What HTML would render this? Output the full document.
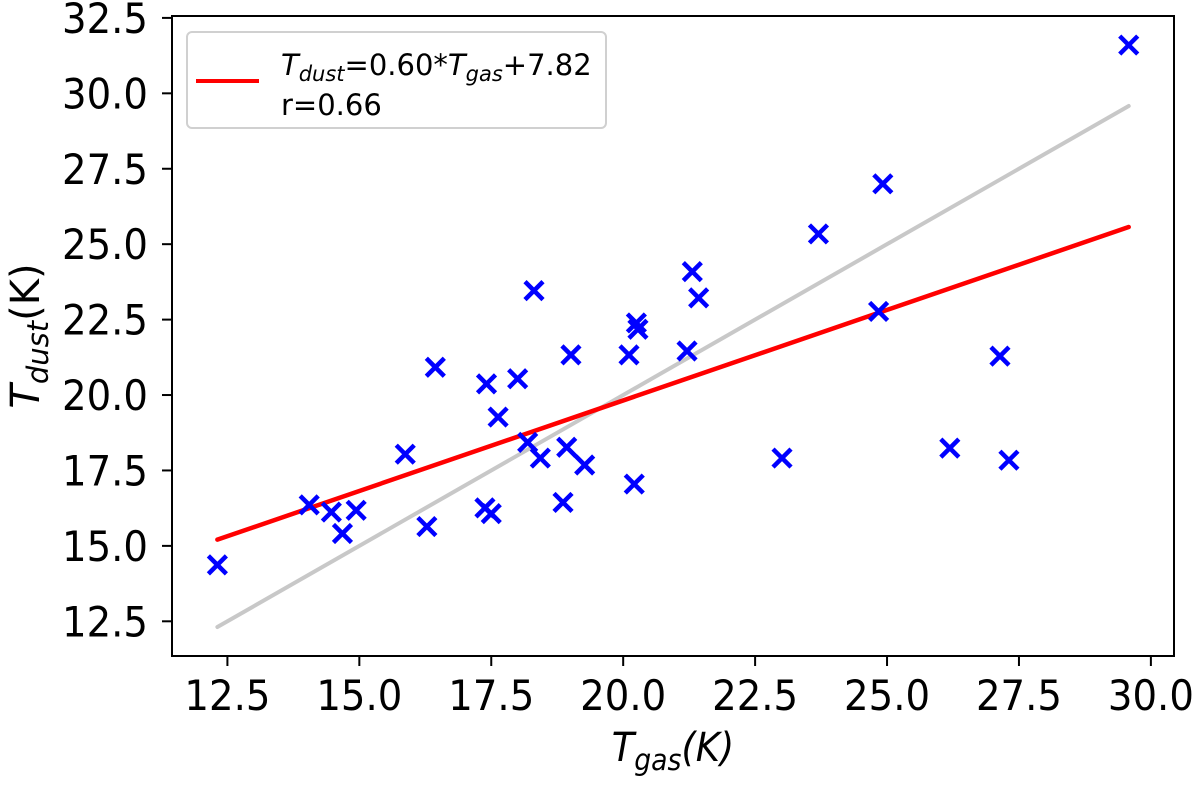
<!DOCTYPE html>
<html><head><meta charset="utf-8"><style>
body{margin:0;background:#fff}
svg text{font-family:"DejaVu Sans","Liberation Sans",sans-serif}
</style></head><body>
<svg id="chart" width="1200" height="780">
<rect x="0" y="0" width="1200" height="780" fill="#fff"/>
<g id="marks"></g>
<rect x="172" y="16" width="1002" height="640" fill="none" stroke="#000" stroke-width="2"/>
<g id="axes"></g>
<g>
<rect x="187" y="32" width="419" height="96" rx="5" fill="#fff" fill-opacity="0.85" stroke="#d0d0d0" stroke-width="2"/>
<line x1="196" y1="81" x2="259" y2="81" stroke="#f00" stroke-width="4"/>
<text x="281" y="75" font-size="29"><tspan font-style="italic">T</tspan><tspan font-style="italic" font-size="21" dy="6">dust</tspan><tspan dy="-6">=0.60*</tspan><tspan font-style="italic">T</tspan><tspan font-style="italic" font-size="21" dy="6">gas</tspan><tspan dy="-6">+7.82</tspan></text>
<text x="281" y="115" font-size="29">r=0.66</text>
</g>
<text transform="translate(673,761) scale(0.92,1)" font-size="40" text-anchor="middle" font-style="italic">T<tspan font-size="29" dy="9">gas</tspan><tspan dy="-9">(K)</tspan></text>
<text transform="translate(39,336) rotate(-90)" font-size="40" text-anchor="middle"><tspan font-style="italic">T</tspan><tspan font-style="italic" font-size="29" dy="9">dust</tspan><tspan dy="-9">(K)</tspan></text>
</svg>
<script>
const xTicks=[12.5,15.0,17.5,20.0,22.5,25.0,27.5,30.0];
const yTicks=[12.5,15.0,17.5,20.0,22.5,25.0,27.5,30.0,32.5];
const tgas=[12.31,14.05,14.47,14.68,14.94,15.87,16.28,16.44,17.38,17.50,17.41,17.63,18.00,18.19,18.31,18.43,18.86,18.93,19.01,19.27,20.11,20.21,20.25,20.28,21.21,21.31,21.43,23.01,23.70,24.84,24.92,26.19,27.14,27.31,29.58];
const tdust=[14.37,16.36,16.12,15.41,16.18,18.04,15.64,20.92,16.26,16.07,20.37,19.27,20.54,18.43,23.46,17.91,16.44,18.27,21.33,17.68,21.33,17.05,22.39,22.18,21.46,24.09,23.22,17.91,25.34,22.77,27.0,18.24,21.29,17.84,31.60];
const fitSlope=0.60, fitIntercept=7.82;
const fitRange=[12.31,29.58];
const NS='http://www.w3.org/2000/svg';
const X=v=>172+(v-11.45)*52.77;
const Y=v=>656-(v-11.35)*30.17;
function mk(tag,attrs,parent){const e=document.createElementNS(NS,tag);for(const k in attrs)e.setAttribute(k,attrs[k]);parent.appendChild(e);return e;}
const axes=document.getElementById('axes'), marks=document.getElementById('marks');
xTicks.forEach(t=>{
  const l=mk('line',{x1:X(t),x2:X(t),y1:656,y2:666,stroke:'#000','stroke-width':2},axes);
  
  
  const tx=mk('text',{transform:`translate(${X(t)},710) scale(0.92,1)`,'font-size':42,'text-anchor':'middle'},axes);
  tx.textContent=t.toFixed(1);
  
  
});
yTicks.forEach(t=>{
  const l=mk('line',{x1:162,x2:172,y1:Y(t),y2:Y(t),stroke:'#000','stroke-width':2},axes);
  
  
  const tx=mk('text',{transform:`translate(148,${Y(t)+15}) scale(0.92,1)`,'font-size':42,'text-anchor':'end'},axes);
  tx.textContent=t.toFixed(1);
  
  
});
const one=mk('line',{x1:X(fitRange[0]),y1:Y(fitRange[0]),x2:X(fitRange[1]),y2:Y(fitRange[1]),stroke:'#c8c8c8','stroke-width':4,'stroke-linecap':'round'},marks);


const fit=mk('line',{x1:X(fitRange[0]),y1:Y(fitSlope*fitRange[0]+fitIntercept),x2:X(fitRange[1]),y2:Y(fitSlope*fitRange[1]+fitIntercept),stroke:'#f00','stroke-width':4.5,'stroke-linecap':'round'},marks);


tgas.forEach((g,i)=>{
  const cx=X(g), cy=Y(tdust[i]), s=9;
  const p=mk('path',{d:`M${cx-s},${cy-s}L${cx+s},${cy+s}M${cx-s},${cy+s}L${cx+s},${cy-s}`,stroke:'#0000ff','stroke-width':4.5,fill:'none'},marks);
  
  
});
</script>
</body></html>
